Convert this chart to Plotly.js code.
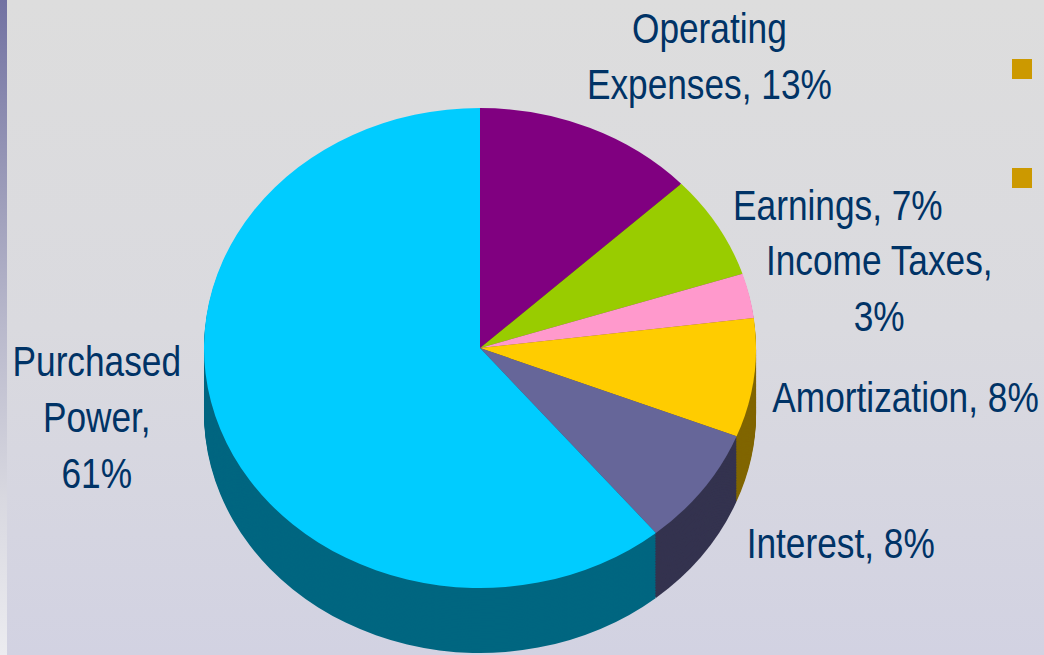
<!DOCTYPE html>
<html>
<head>
<meta charset="utf-8">
<script src="https://cdn.plot.ly/plotly-3.0.1.min.js"></script>
<style>
  html, body { margin:0; padding:0; width:1044px; height:655px; overflow:hidden; }
  body { background: linear-gradient(to bottom, #dddddd 0%, #dadadf 50%, #d2d2e2 100%); position:relative; }
  #bar { position:absolute; left:0; top:0; width:7px; height:655px;
         background: linear-gradient(to bottom, #7272a2 0%, #9d9dba 30%, #b9b9cc 50%, #d8d8e0 76%, #ececf0 100%); z-index:2; }
  #chart { position:absolute; left:0; top:0; width:1044px; height:760px; }
  /* narrow the label type like the original condensed face */
  #chart .annotation-text-g text { transform-box: fill-box; transform-origin: center; transform: scaleX(0.82); }
</style>
</head>
<body>
<div id="bar"></div>
<div id="chart"></div>
<script>
// ---- data ----
const categories = ['Operating Expenses', 'Earnings', 'Income Taxes', 'Amortization', 'Interest', 'Purchased Power'];
const shares     = [13, 7, 3, 8, 8, 61];
const topColors  = ['#800080', '#99cc00', '#ff99cc', '#ffcc00', '#666699', '#00ccff'];
const sideColors = ['#400040', '#4d6600', '#804d66', '#806600', '#34334f', '#006680'];
// label text broken into lines as in the picture
const labelTexts = ['Operating<br>Expenses, 13%', 'Earnings, 7%', 'Income Taxes,<br>3%',
                    'Amortization, 8%', 'Interest, 8%', 'Purchased<br>Power,<br>61%'];

// ---- geometry (pixels) ----
const W = 1044, H = 760;
const cx = 480, cy = 348, R = 276;     // pie centre and radius before tilt
const tilt = 240 / 276;                 // vertical squash for the 3-D look
const depth = 65;                       // visible side thickness after tilt
const steps = 40;

function domainFor(offsetPx) {
  const yc = cy + offsetPx;
  return {
    x: [(cx - R) / W, (cx + R) / W],
    y: [1 - (yc + R) / H, 1 - (yc - R) / H]
  };
}

const traces = [];
for (let i = steps; i >= 1; i--) {
  const off = (depth / tilt) * i / steps;
  traces.push({
    type: 'pie', labels: categories, values: shares, sort: false,
    direction: 'clockwise', rotation: 0, textinfo: 'none', hoverinfo: 'skip',
    marker: { colors: sideColors, line: { width: 0 } },
    domain: domainFor(off), showlegend: false
  });
}
traces.push({
  type: 'pie', labels: categories, values: shares, sort: false,
  direction: 'clockwise', rotation: 0, textinfo: 'none', hoverinfo: 'label+percent',
  marker: { colors: topColors, line: { width: 0 } },
  domain: domainFor(0), showlegend: false
});

// label centres in pixels
const labelPos = [[709, 56], [838, 205], [879, 288], [905, 397], [840, 543], [97, 417]];
const font = { family: '"Liberation Sans", Arial, sans-serif', size: 43, color: '#003366' };
const annotations = labelTexts.map((t, i) => ({
  text: t, xref: 'paper', yref: 'paper',
  x: labelPos[i][0] / W, y: 1 - labelPos[i][1] / H,
  xanchor: 'center', yanchor: 'middle', showarrow: false, align: 'center', font: font
}));

const bullets = [[1012, 59], [1012, 168]];
const shapes = bullets.map(b => ({
  type: 'rect', xref: 'paper', yref: 'paper',
  x0: b[0] / W, x1: (b[0] + 20) / W, y0: 1 - (b[1] + 20) / H, y1: 1 - b[1] / H,
  fillcolor: '#cc9900', line: { width: 0 }
}));

const layout = {
  width: W, height: H, margin: { l: 0, r: 0, t: 0, b: 0 },
  paper_bgcolor: 'rgba(0,0,0,0)', plot_bgcolor: 'rgba(0,0,0,0)',
  showlegend: false, annotations: annotations, shapes: shapes
};

Plotly.newPlot('chart', traces, layout, { staticPlot: true, displayModeBar: false }).then(() => {
  const pl = document.querySelector('#chart .pielayer');
  if (pl) pl.setAttribute('transform', `translate(0, ${cy * (1 - tilt)}) scale(1, ${tilt})`);
});
</script>
</body>
</html>
